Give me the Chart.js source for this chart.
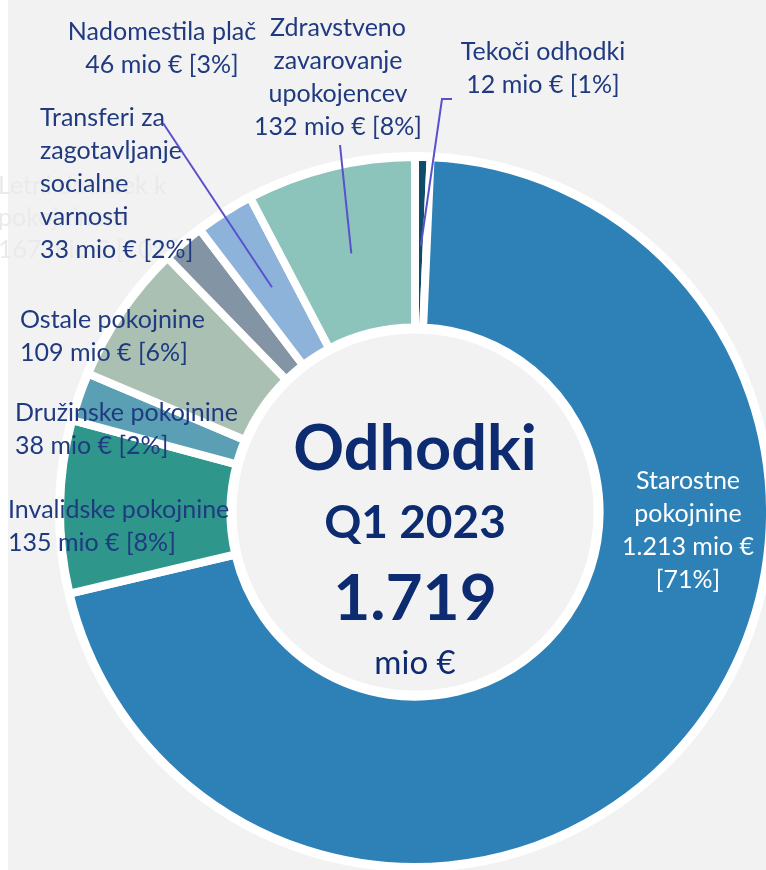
<!DOCTYPE html>
<html lang="sl">
<head>
<meta charset="utf-8">
<title>Odhodki Q1 2023</title>
<script src="https://cdn.jsdelivr.net/npm/chart.js@4.4.0/dist/chart.umd.min.js"></script>
<style>
  html, body { margin: 0; padding: 0; background: #ffffff; }
  #okvir { width: 766px; height: 870px; overflow: hidden; }
</style>
</head>
<body>
<div id="okvir"><canvas id="grafOdhodki" width="766" height="870"></canvas></div>
<script>
// podatki (mio €), v smeri urinega kazalca od vrha
const kategorije = ['Tekoči odhodki', 'Starostne pokojnine', 'Invalidske pokojnine', 'Družinske pokojnine',
    'Ostale pokojnine', 'Transferi za zagotavljanje socialne varnosti', 'Nadomestila plač',
    'Zdravstveno zavarovanje upokojencev'];
const vrednosti = [12, 1213, 135, 38, 109, 33, 46, 132];
const delezi = [1, 71, 8, 2, 6, 2, 3, 8];
const barve = ['#0f4c68', '#2e81b7', '#2e968a', '#5a9fb4', '#a9c0b3', '#8394a5', '#8db3db', '#8cc3bb'];
const naslov = ['Odhodki', 'Q1 2023'];
const skupaj = 1719;
const enota = 'mio €';

// postavitev oznak (samo izgled)
const postavitev = [
    { vrstice: ['Tekoči odhodki'], x: 543, y: 52, poravnava: 'center', crta: 'koleno' },
    { vrstice: ['Starostne', 'pokojnine'], x: 688, y: 481, poravnava: 'center', barva: '#ffffff', loceno: true },
    { vrstice: ['Invalidske pokojnine'], x: 8, y: 510, poravnava: 'left' },
    { vrstice: ['Družinske pokojnine'], x: 15, y: 413, poravnava: 'left' },
    { vrstice: ['Ostale pokojnine'], x: 20, y: 320, poravnava: 'left' },
    { vrstice: ['Transferi za', 'zagotavljanje', 'socialne', 'varnosti'], x: 40, y: 118, poravnava: 'left' },
    { vrstice: ['Nadomestila plač'], x: 162, y: 32, poravnava: 'center', crta: [163, 123] },
    { vrstice: ['Zdravstveno', 'zavarovanje', 'upokojencev'], x: 338, y: 28, poravnava: 'center', crta: [340, 145] }
];

const BARVA_TEKST = '#1f3a80';
const BARVA_SREDINA = '#0d2b70';
const BARVA_CRTA = '#5b50cc';
const PISAVA = 'Lato, "Open Sans", sans-serif';

function stevilo(v) {
    return String(v).replace(/\B(?=(\d{3})+(?!\d))/g, '.');
}

document.addEventListener('DOMContentLoaded', () => {
    try {
        const ozadje = {
            id: 'ozadje',
            beforeDraw(chart) {
                const c = chart.ctx;
                c.save();
                c.fillStyle = '#ffffff';
                c.fillRect(0, 0, chart.width, chart.height);
                c.fillStyle = '#f2f2f2';
                c.fillRect(8, 0, chart.width - 8, chart.height);
                // skrita oznaka, ki se skoraj ne vidi
                c.fillStyle = '#eaeaea';
                c.font = '25px ' + PISAVA;
                c.textBaseline = 'middle';
                c.textAlign = 'left';
                ['Letni dodatek k', 'pokojninam', '167 mio € [10%]'].forEach((t, i) => c.fillText(t, -2, 186 + i * 32));
                c.restore();
            },
            beforeDatasetsDraw(chart) {
                const lok = chart.getDatasetMeta(0).data[0];
                if (!lok) return;
                const c = chart.ctx;
                c.save();
                c.fillStyle = '#ffffff';
                c.beginPath();
                c.arc(lok.x, lok.y, lok.outerRadius + 5, 0, Math.PI * 2);
                c.fill();
                c.restore();
            },
            afterDatasetsDraw(chart) {
                const meta = chart.getDatasetMeta(0);
                const lok = meta.data[0];
                const c = chart.ctx;
                c.save();
                // sredinski krog
                c.fillStyle = '#f2f2f2';
                c.beginPath();
                c.arc(lok.x, lok.y, lok.innerRadius - 6, 0, Math.PI * 2);
                c.fill();

                c.textAlign = 'center';
                c.textBaseline = 'middle';
                c.fillStyle = BARVA_SREDINA;
                c.font = 'bold 63px ' + PISAVA;
                c.fillText(naslov[0], lok.x, 450);
                c.font = 'bold 46px ' + PISAVA;
                c.fillText(naslov[1], lok.x, 523);
                c.font = 'bold 64px ' + PISAVA;
                c.fillText(stevilo(skupaj), lok.x, 599);
                c.font = '33px ' + PISAVA;
                c.fillText(enota, lok.x, 663);

                // oznake in vodilne črte
                c.font = '25px ' + PISAVA;
                postavitev.forEach((p, i) => {
                    const a = meta.data[i];
                    const vr = stevilo(vrednosti[i]) + ' ' + enota;
                    const vrstice = p.loceno
                        ? p.vrstice.concat([vr, '[' + delezi[i] + '%]'])
                        : p.vrstice.concat([vr + ' [' + delezi[i] + '%]']);
                    c.fillStyle = p.barva || BARVA_TEKST;
                    c.textAlign = p.poravnava;
                    vrstice.forEach((t, j) => c.fillText(t, p.x, p.y + j * 33));

                    if (p.crta) {
                        const kot = (a.startAngle + a.endAngle) / 2;
                        const r = a.innerRadius + (a.outerRadius - a.innerRadius) * 0.48;
                        const kx = a.x + Math.cos(kot) * r;
                        const ky = a.y + Math.sin(kot) * r;
                        c.strokeStyle = BARVA_CRTA;
                        c.lineWidth = 2;
                        c.beginPath();
                        if (Array.isArray(p.crta)) {
                            c.moveTo(p.crta[0], p.crta[1]);
                        } else {
                            c.moveTo(452, 99);
                            c.lineTo(442, 99);
                        }
                        c.lineTo(kx, ky);
                        c.stroke();
                    }
                });
                c.restore();
            }
        };

        const ctx = document.getElementById('grafOdhodki').getContext('2d');
        new Chart(ctx, {
            type: 'doughnut',
            data: {
                labels: kategorije,
                datasets: [{
                    data: vrednosti,
                    backgroundColor: barve,
                    borderColor: '#ffffff',
                    borderWidth: 8,
                    clip: false
                }]
            },
            options: {
                responsive: false,
                animation: false,
                radius: 355,
                cutout: '52%',
                rotation: 0,
                layout: { padding: { left: 64, right: 0, top: 154, bottom: 0 } },
                plugins: {
                    legend: { display: false },
                    tooltip: { enabled: false }
                }
            },
            plugins: [ozadje]
        });
    } catch (e) {
        console.error('Napaka pri risanju grafa:', e);
    }
});
</script>
</body>
</html>
